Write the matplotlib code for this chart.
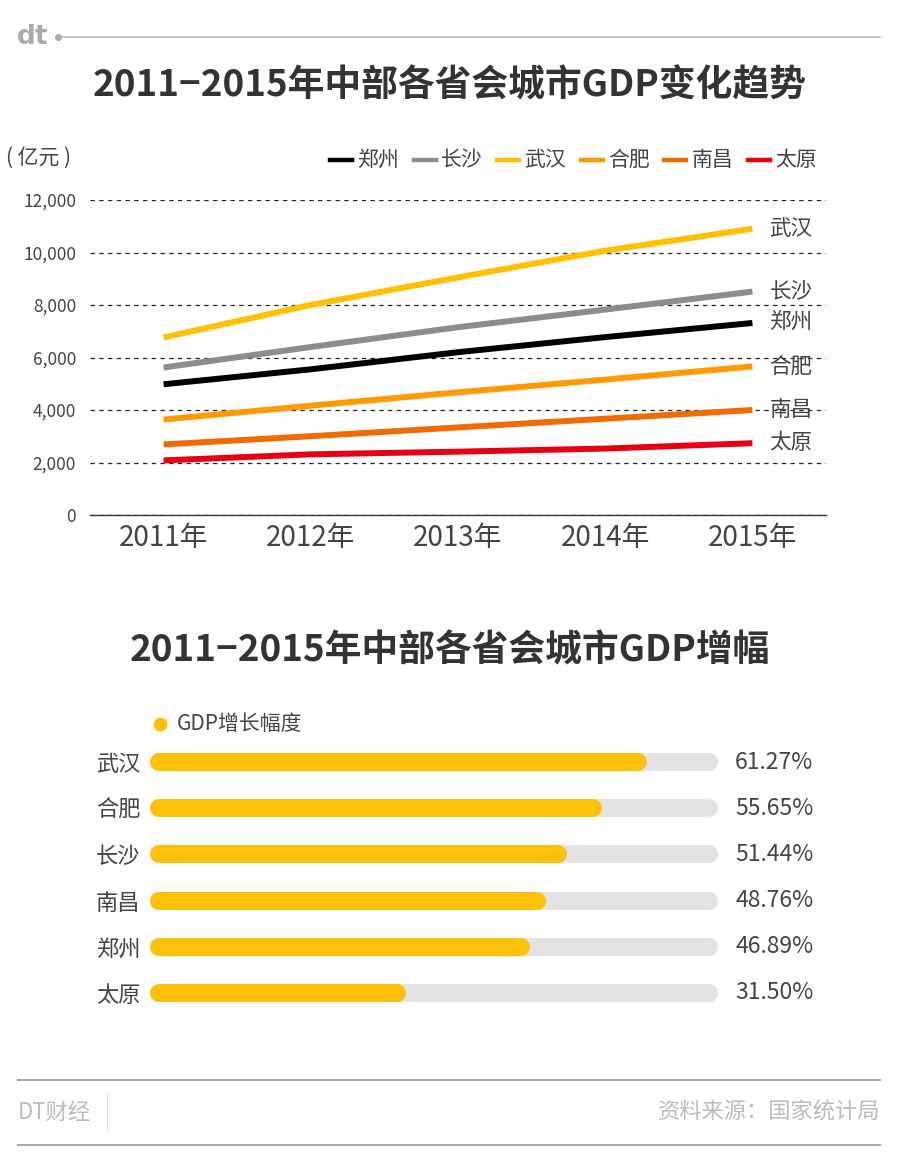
import matplotlib
matplotlib.use("Agg")
import matplotlib.pyplot as plt
from matplotlib.lines import Line2D

plt.rcParams['font.family'] = ['Noto Sans CJK SC', 'DejaVu Sans']

# ---------------- data ----------------
years = ["2011年", "2012年", "2013年", "2014年", "2015年"]
cities = ["郑州", "长沙", "武汉", "合肥", "南昌", "太原"]
gdp_zhengzhou = [4980, 5550, 6202, 6777, 7315]
gdp_changsha = [5619, 6400, 7153, 7825, 8510]
gdp_wuhan = [6762, 8004, 9051, 10069, 10906]
gdp_hefei = [3637, 4164, 4673, 5158, 5660]
gdp_nanchang = [2689, 3001, 3336, 3668, 4000]
gdp_taiyuan = [2080, 2311, 2413, 2531, 2735]
yticks = [0, 2000, 4000, 6000, 8000, 10000, 12000]

growth_cities = ["武汉", "合肥", "长沙", "南昌", "郑州", "太原"]
growth_values = [61.27, 55.65, 51.44, 48.76, 46.89, 31.50]

line_colors = ["#000000", "#8c8c8c", "#ffc000", "#ff9a00", "#ee6c00", "#e60012"]
series = [gdp_zhengzhou, gdp_changsha, gdp_wuhan, gdp_hefei, gdp_nanchang, gdp_taiyuan]

W, H = 900, 1168
fig = plt.figure(figsize=(W / 100, H / 100), dpi=100)


def rect(l, t, r, b):
    return [l / W, 1 - b / H, (r - l) / W, (b - t) / H]


def fx(x):
    return x / W


def fy(y):
    return 1 - y / H


TXT = "#444444"

# ---------------- header ----------------
fig.text(fx(17), fy(37), "dt", fontsize=19, color="#aaaaaa", fontweight="bold",
         ha="left", va="center", family=["DejaVu Sans"])
fig.add_artist(Line2D([fx(58), fx(880)], [fy(37), fy(37)], color="#bbbbbb", lw=1.2))
fig.add_artist(Line2D([fx(58)], [fy(37)], marker="o", markersize=4, color="#aaaaaa"))

fig.text(0.5, fy(86), "2011−2015年中部各省会城市GDP变化趋势", fontsize=26.5,
         fontweight="bold", color="#333333", ha="center", va="center")
fig.text(fx(6), fy(158), "( 亿元 )", fontsize=15, color=TXT, ha="left", va="center")

# legend
for i, (c, col) in enumerate(zip(cities, line_colors)):
    x0 = 330 + i * 83.6
    fig.add_artist(Line2D([fx(x0), fx(x0 + 22)], [fy(160), fy(160)], color=col, lw=3.2))
    fig.text(fx(x0 + 27), fy(160), c, fontsize=15, color=TXT, ha="left", va="center")

# ---------------- line chart ----------------
ax = fig.add_axes(rect(90, 200, 826, 515))
xs = list(range(len(years)))
for s, col, c in zip(series, line_colors, cities):
    ax.plot(xs, s, color=col, lw=4.3, solid_capstyle="butt", zorder=3)
    ax.text(xs[-1] + 0.115, s[-1], c, fontsize=15.5, color=TXT, ha="left", va="center")
ax.set_xlim(-0.5, 4.5)
ax.set_ylim(0, 12000)
ax.set_yticks(yticks)
ax.set_yticklabels([f"{v:,}" for v in yticks], fontsize=12.5, color=TXT)
ax.set_xticks(xs)
ax.set_xticklabels(years, fontsize=20, color=TXT)
ax.tick_params(axis="both", length=0)
ax.tick_params(axis="y", pad=10)
ax.tick_params(axis="x", pad=6)
for sp in ["top", "right", "left"]:
    ax.spines[sp].set_visible(False)
ax.spines["bottom"].set_color("#333333")
ax.spines["bottom"].set_linewidth(1.0)
ax.set_axisbelow(True)
ax.grid(axis="y", color="#222222", lw=0.9, linestyle=(0, (3.5, 3.5)))
ax.grid(axis="x", visible=False)

# ---------------- bar chart ----------------
fig.text(0.5, fy(651), "2011−2015年中部各省会城市GDP增幅", fontsize=26.5,
         fontweight="bold", color="#333333", ha="center", va="center")
fig.add_artist(Line2D([fx(160)], [fy(724)], marker="o", markersize=10,
                      color="#fdc10a", markeredgewidth=0))
fig.text(fx(177), fy(724), "GDP增长幅度", fontsize=15, color=TXT, ha="left", va="center")

bl, br = 150, 718
bax = fig.add_axes(rect(bl, 739, br, 1016))
xmax = 70
px_per_unit = (br - bl) / xmax
bar_h_px = 18
r = (bar_h_px / 2) / px_per_unit
lw_pt = bar_h_px * 72 / 100
ys = list(range(len(growth_cities)))
for y, v in zip(ys, growth_values):
    bax.plot([r, xmax - r], [y, y], color="#e3e3e3", lw=lw_pt, solid_capstyle="round", zorder=1)
    bax.plot([r, v - r], [y, y], color="#fdc10a", lw=lw_pt, solid_capstyle="round", zorder=2)
    bax.text(1.03, y, f"{v:.2f}%", transform=bax.get_yaxis_transform(), fontsize=16.5,
             color=TXT, ha="left", va="center")
bax.set_xlim(0, xmax)
bax.set_ylim(len(ys) - 0.5, -0.5)
bax.set_yticks(ys)
bax.set_yticklabels(growth_cities, fontsize=16, color=TXT)
bax.set_xticks([])
bax.tick_params(axis="y", length=0, pad=7)
for sp in bax.spines.values():
    sp.set_visible(False)
bax.patch.set_visible(False)

# ---------------- footer ----------------
fig.add_artist(Line2D([fx(18), fx(880)], [fy(1080), fy(1080)], color="#aaaaaa", lw=1.5))
fig.add_artist(Line2D([fx(18), fx(880)], [fy(1145), fy(1145)], color="#aaaaaa", lw=1.5))
fig.add_artist(Line2D([fx(107), fx(107)], [fy(1094), fy(1132)], color="#dddddd", lw=0.8))
fig.text(fx(18), fy(1112), "DT财经", fontsize=16, color="#bbbbbb", ha="left", va="center")
fig.text(fx(880), fy(1112), "资料来源：国家统计局", fontsize=16, color="#bbbbbb",
         ha="right", va="center")

fig.savefig("out.png", dpi=100, facecolor="white")
